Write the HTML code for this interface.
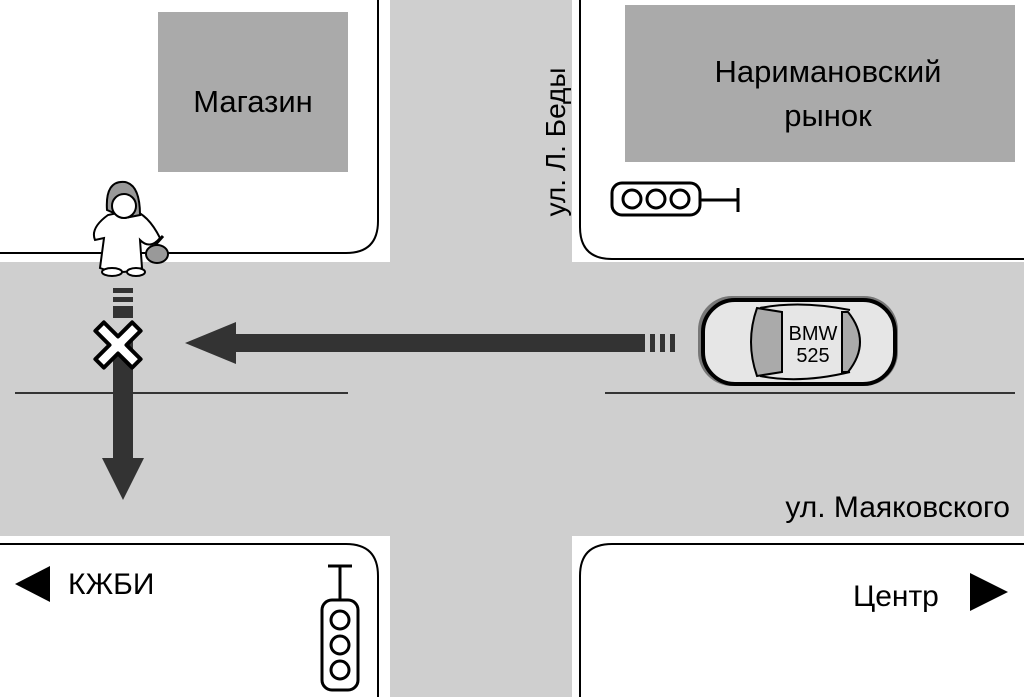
<!DOCTYPE html>
<html><head><meta charset="utf-8"><style>
body{margin:0;background:#fff}
svg{display:block;font-family:"Liberation Sans",sans-serif}
</style></head><body>
<svg width="1024" height="697" viewBox="0 0 1024 697">
<rect x="0" y="262" width="1024" height="274" fill="#cfcfcf"/>
<rect x="390" y="0" width="182" height="697" fill="#cfcfcf"/>
<g fill="none" stroke="#000" stroke-width="2">
<path d="M0 253 H346 Q378 253 378 221 V0"/>
<path d="M1024 259 H612 Q580 259 580 227 V0"/>
<path d="M0 544 H346 Q378 544 378 576 V697"/>
<path d="M1024 544 H612 Q580 544 580 576 V697"/>
<path d="M15 393 H348 M605 393 H1015" stroke-width="1.5"/>
</g>
<rect x="158" y="12" width="190" height="160" fill="#aaa"/>
<rect x="625" y="5" width="390" height="157" fill="#aaa"/>
<text x="253" y="112" font-size="31" text-anchor="middle">Магазин</text>
<text x="828" y="82" font-size="31" text-anchor="middle">Наримановский</text>
<text x="828" y="126" font-size="31" text-anchor="middle">рынок</text>
<text transform="translate(565,142) rotate(-90)" font-size="28" text-anchor="middle">ул. Л. Беды</text>
<text x="1010" y="517" font-size="30" text-anchor="end">ул. Маяковского</text>
<text x="68" y="594" font-size="30">КЖБИ</text>
<path d="M15 584 L50 566 V602 Z"/>
<text x="853" y="606" font-size="30">Центр</text>
<path d="M1008 592 L970 573 V611 Z"/>
<g stroke="#000" stroke-width="3" fill="#fff">
<path d="M700 200 H738 M738 188 V212"/>
<rect x="612" y="183" width="88" height="32" rx="10"/>
<circle cx="632" cy="199" r="9"/><circle cx="656" cy="199" r="9"/><circle cx="680" cy="199" r="9"/>
<path d="M340 600 V566 M328 566 H352"/>
<rect x="322" y="600" width="36" height="90" rx="10"/>
<circle cx="340" cy="620" r="9"/><circle cx="340" cy="645" r="9"/><circle cx="340" cy="670" r="9"/>
</g>
<g fill="#333">
<rect x="232" y="334" width="413" height="18"/>
<path d="M185 343 L236 322 V364 Z"/>
<rect x="650" y="334" width="5" height="18"/><rect x="660" y="334" width="5" height="18"/><rect x="670" y="334" width="5" height="18"/>
<rect x="113" y="340" width="20" height="125"/>
<path d="M123 500 L102 458 H144 Z"/>
<rect x="113" y="288" width="20" height="5"/><rect x="113" y="297" width="20" height="5"/><rect x="113" y="306" width="20" height="12"/>
</g>
<g transform="translate(118,345) rotate(45)">
<path d="M-6 -26 H6 V-6 H26 V6 H6 V26 H-6 V6 H-26 V-6 H-6 Z" fill="#fff" stroke="#000" stroke-width="4" stroke-linejoin="round"/>
</g>
<g stroke="#000" stroke-width="2">
<path d="M108 215 Q90 228 95 240 L104 238 L100 268 Q120 276 142 268 L140 240 Q150 250 160 238 Q148 214 132 210 Z" fill="#fff"/>
<ellipse cx="112" cy="272" rx="10" ry="4" fill="#fff"/><ellipse cx="136" cy="272" rx="9" ry="4" fill="#fff"/>
<path d="M107 210 Q105 180 125 182 Q140 185 140 215 L125 218 Z" fill="#999"/>
<ellipse cx="124" cy="206" rx="12" ry="12" fill="#fff"/>
<ellipse cx="157" cy="254" rx="11" ry="9" fill="#999"/>
<path d="M155 245 L163 236" stroke-width="3"/>
</g>
<g stroke="#000">
<rect x="698" y="296" width="200" height="90" rx="34" fill="#777" stroke="none"/>
<rect x="703" y="300" width="192" height="84" rx="32" fill="#e6e6e6" stroke-width="4"/>
<path d="M757 308 Q745 342 757 376 L782 372 V312 Z" fill="#aaa" stroke-width="2"/>
<path d="M848 312 Q872 342 848 372 L842 372 V312 Z" fill="#aaa" stroke-width="2"/>
<path d="M760 308 Q800 300 850 310 M760 376 Q800 384 850 372" stroke-width="2" fill="none"/>
</g>
<text x="813" y="340" font-size="20" text-anchor="middle">BMW</text>
<text x="813" y="362" font-size="20" text-anchor="middle">525</text>
</svg>
</body></html>
